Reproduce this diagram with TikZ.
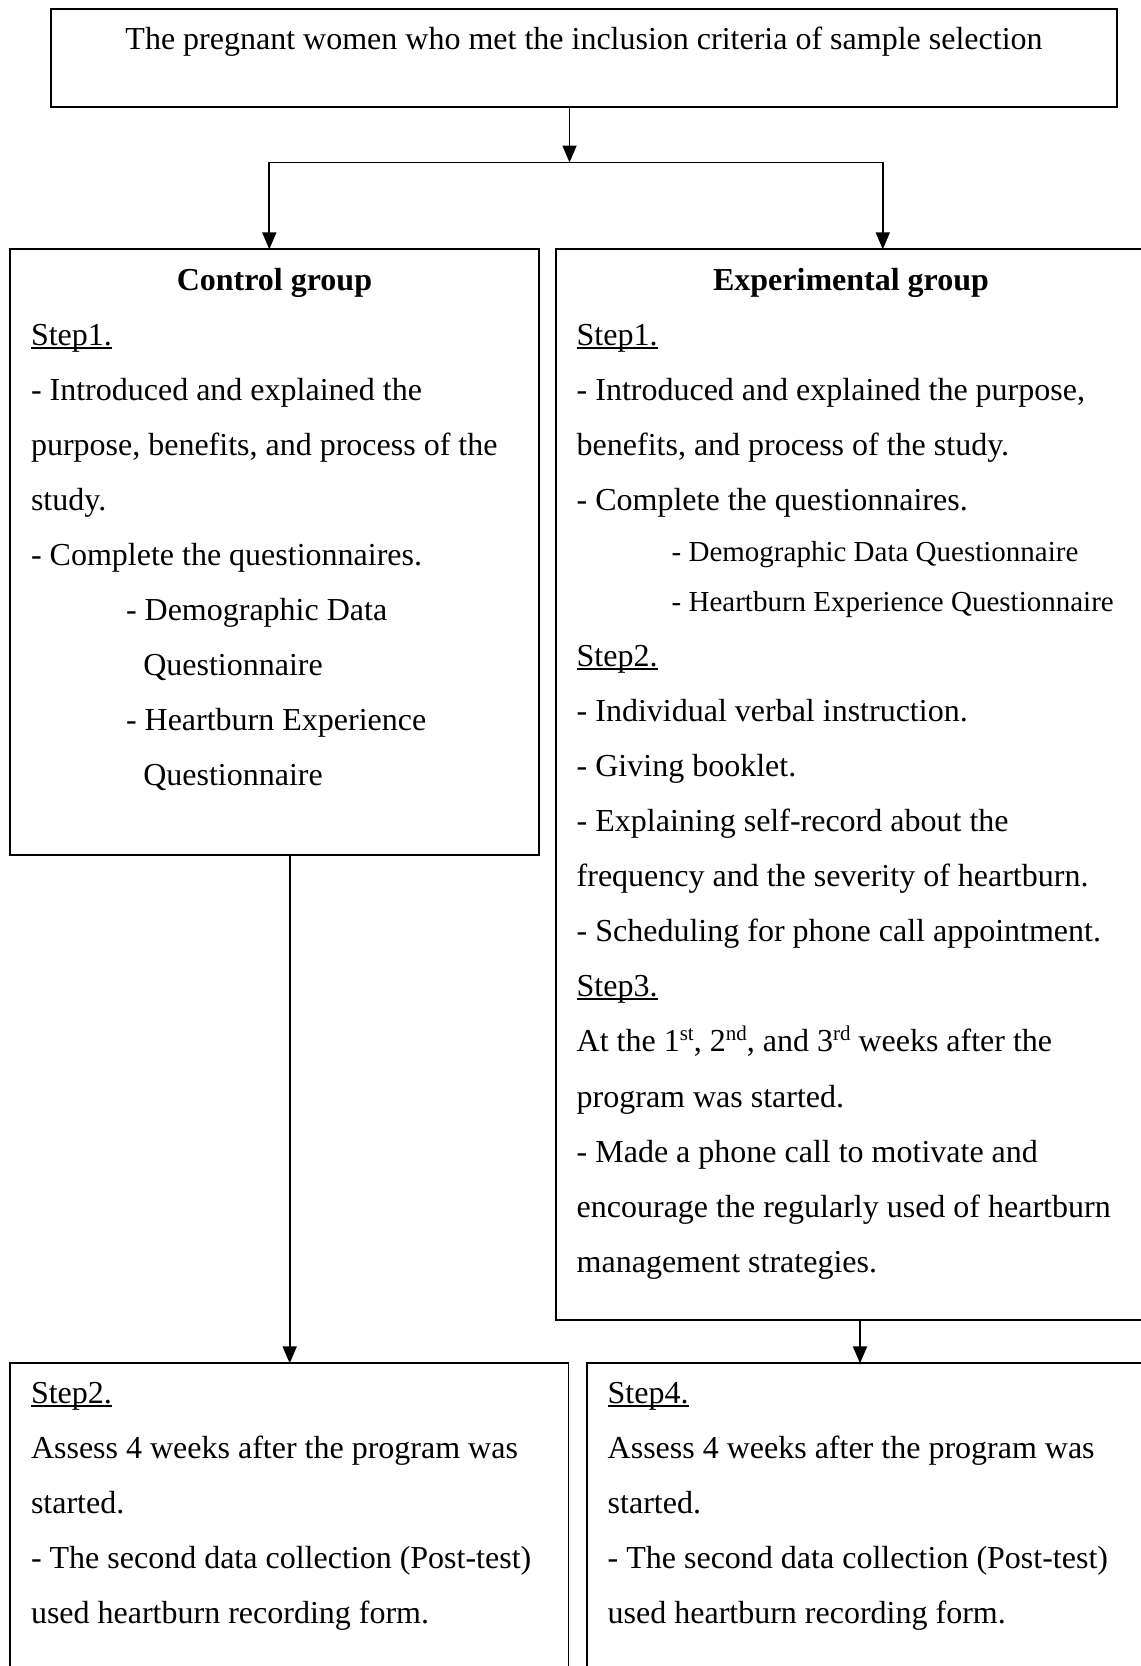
\documentclass[tikz,border=0pt]{standalone}
\usepackage{fontspec}
\setmainfont{Liberation Serif}
\usetikzlibrary{arrows.meta}
\newcommand\stepul[1]{\setbox0\hbox{#1}\rlap{\rule[-3.5pt]{\wd0}{1.5pt}}\box0}
\newcommand\suprs[1]{\raisebox{11pt}{\fontsize{21}{22}\selectfont #1}}
\tikzset{
  txt/.style={anchor=base west, inner sep=0pt, outer sep=0pt, font=\fontsize{32}{38}\selectfont},
  subtxt/.style={txt, font=\fontsize{29}{34}\selectfont},
  hdr/.style={anchor=base, inner sep=0pt, outer sep=0pt, font=\fontsize{32}{38}\selectfont\bfseries},
  ctr/.style={anchor=base, inner sep=0pt, outer sep=0pt, font=\fontsize{32}{38}\selectfont},
  boxx/.style={draw, rectangle, line width=1.8pt, inner sep=0pt, outer sep=0pt},
  ln/.style={line width=1.8pt},
  arr/.style={line width=1.8pt, -{Triangle[length=17pt,width=14pt]}}
}
\begin{document}
\begin{tikzpicture}[x=1pt,y=-1pt]
\useasboundingbox (0,0) rectangle (1141,1666);
\clip (0,0) rectangle (1141,1666);
% boxes
\node[boxx, minimum width=1066pt, minimum height=98pt] (top) at (584,58) {};
\node[boxx, minimum width=528.8pt, minimum height=605.7pt] (ctrl) at (274.4,552.15) {};
\node[boxx, minimum width=590pt, minimum height=1070.7pt] (exp) at (851,784.65) {};
\node[boxx, minimum width=558.4pt, minimum height=336.7pt] (bl) at (289.2,1531.65) {};
\node[boxx, minimum width=559.4pt, minimum height=336.7pt] (br) at (866.3,1531.65) {};
% connectors
\coordinate (sp) at (569.5,162.5);
\coordinate (cl) at (269.3,162.5);
\coordinate (cr) at (882.8,162.5);
\coordinate (cd) at (289.7,0);
\coordinate (ed) at (860,0);
\draw[arr] (top.south -| sp) -- (sp);
\draw[arr] (sp) -| (cl |- ctrl.north);
\draw[arr] (sp) -| (cr |- exp.north);
\draw[arr] (ctrl.south -| cd) -- (cd |- bl.north);
\draw[arr] (exp.south -| ed) -- (ed |- br.north);
% top text
\node[ctr] (t0) at (584,49.3) {The pregnant women who met the inclusion criteria of sample selection};
% control group
\node[hdr] (c0) at (274.4,290) {Control group};
\node[txt] (c1) at (31,345) {\stepul{Step1.}};
\node[txt] (c2) at (31,400) {- Introduced and explained the};
\node[txt] (c3) at (31,455) {purpose, benefits, and process of the};
\node[txt] (c4) at (31,510) {study.};
\node[txt] (c5) at (31,565) {- Complete the questionnaires.};
\node[txt] (c6) at (126,620) {- Demographic Data};
\node[txt] (c7) at (143.3,675) {Questionnaire};
\node[txt] (c8) at (126,730) {- Heartburn Experience};
\node[txt] (c9) at (143.3,785) {Questionnaire};
% experimental group
\node[hdr] (e0) at (851,290) {Experimental group};
\node[txt] (e1) at (576.7,345) {\stepul{Step1.}};
\node[txt] (e2) at (576.7,400) {- Introduced and explained the purpose,};
\node[txt] (e3) at (576.7,455) {benefits, and process of the study.};
\node[txt] (e4) at (576.7,510) {- Complete the questionnaires.};
\node[subtxt] (e5) at (671.7,561.7) {- Demographic Data Questionnaire};
\node[subtxt] (e6) at (671.7,611.7) {- Heartburn Experience Questionnaire};
\node[txt] (e7) at (576.7,666) {\stepul{Step2.}};
\node[txt] (e8) at (576.7,721) {- Individual verbal instruction.};
\node[txt] (e9) at (576.7,776) {- Giving booklet.};
\node[txt] (e10) at (576.7,831) {- Explaining self-record about the};
\node[txt] (e11) at (576.7,886) {frequency and the severity of heartburn.};
\node[txt] (e12) at (576.7,941) {- Scheduling for phone call appointment.};
\node[txt] (e13) at (576.7,996) {\stepul{Step3.}};
\node[txt] (e14) at (576.7,1051.5) {At the 1\suprs{st}, 2\suprs{nd}, and 3\suprs{rd} weeks after the};
\node[txt] (e15) at (576.7,1107) {program was started.};
\node[txt] (e16) at (576.7,1162) {- Made a phone call to motivate and};
\node[txt] (e17) at (576.7,1217) {encourage the regularly used of heartburn};
\node[txt] (e18) at (576.7,1272) {management strategies.};
% bottom left
\node[txt] (l1) at (31,1403.3) {\stepul{Step2.}};
\node[txt] (l2) at (31,1458.3) {Assess 4 weeks after the program was};
\node[txt] (l3) at (31,1513.3) {started.};
\node[txt] (l4) at (31,1568.3) {- The second data collection (Post-test)};
\node[txt] (l5) at (31,1623.3) {used heartburn recording form.};
% bottom right
\node[txt] (r1) at (607.7,1403.3) {\stepul{Step4.}};
\node[txt] (r2) at (607.7,1458.3) {Assess 4 weeks after the program was};
\node[txt] (r3) at (607.7,1513.3) {started.};
\node[txt] (r4) at (607.7,1568.3) {- The second data collection (Post-test)};
\node[txt] (r5) at (607.7,1623.3) {used heartburn recording form.};
\end{tikzpicture}
\end{document}
